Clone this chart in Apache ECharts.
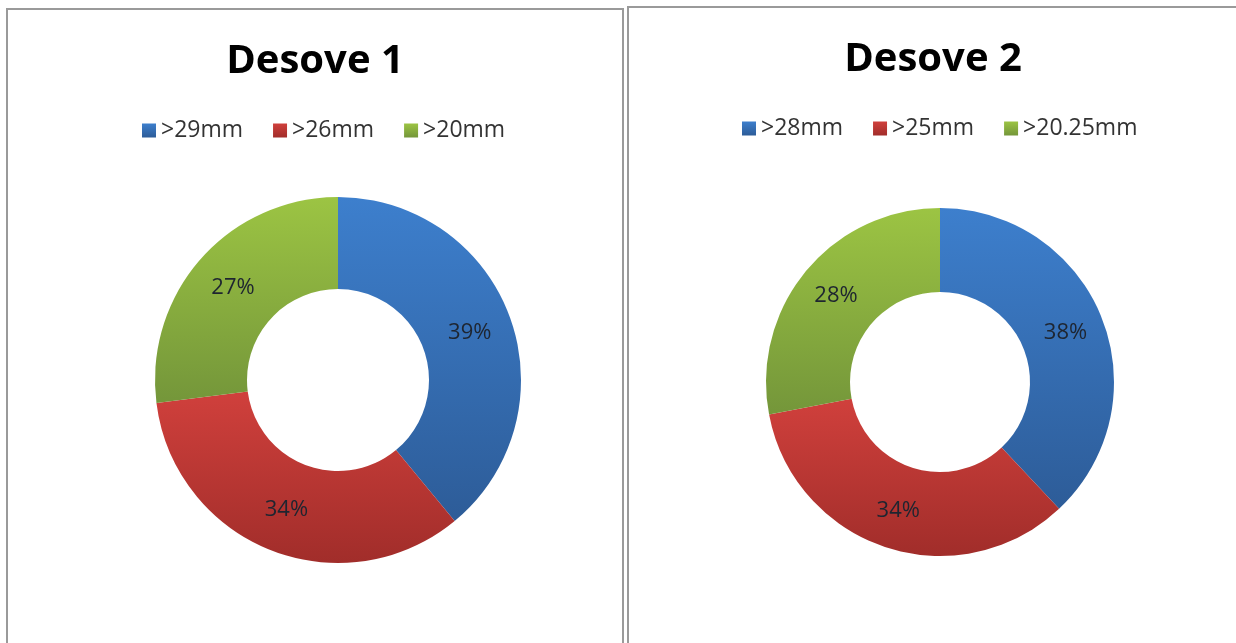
<!DOCTYPE html>
<html>
<head>
<meta charset="utf-8">
<script src="https://cdn.jsdelivr.net/npm/echarts@6/dist/echarts.min.js"></script>
<style>
  html, body { margin: 0; padding: 0; background: #fff; }
  #chart { width: 1236px; height: 643px; }
</style>
</head>
<body>
<div id="chart"></div>
<script>
// data
const names1 = ['>29mm', '>26mm', '>20mm']
const values1 = [39, 34, 27]
const names2 = ['>28mm', '>25mm', '>20.25mm']
const values2 = [38, 34, 28]

// slice colours, top -> bottom of the gradient
const shades = [
  ['#3d7fcd', '#2d5c98'],
  ['#d0403c', '#a12d2a'],
  ['#9cc443', '#74963a']
]

function grad(i) {
  return new echarts.graphic.LinearGradient(0, 0, 0, 1, [
    { offset: 0, color: shades[i][0] },
    { offset: 1, color: shades[i][1] }
  ])
}

function toData(names, values) {
  return names.map((n, i) => ({ name: n, value: values[i], itemStyle: { color: grad(i) } }))
}

const chart = echarts.init(document.getElementById('chart'))
const fontFamily = 'Open Sans, Noto Sans, sans-serif'

const legendBase = {
  itemWidth: 14, itemHeight: 14, itemGap: 30, icon: 'rect',
  textStyle: { fontFamily, fontSize: 23, color: '#333' }
}
const labelBase = { position: 'inside', formatter: '{c}%', fontFamily, fontSize: 22, color: '#1e2530' }

const option = {
  animation: false,
  color: shades.map(s => s[0]),
  graphic: [
    { type: 'rect', shape: { x: 7, y: 9, width: 616, height: 660 }, style: { fill: 'none', stroke: '#9a9a9a', lineWidth: 2 }, z: 0 },
    { type: 'rect', shape: { x: 628, y: 7, width: 620, height: 660 }, style: { fill: 'none', stroke: '#9a9a9a', lineWidth: 2 }, z: 0 }
  ],
  title: [
    { text: 'Desove 1', left: 310, top: 37, textAlign: 'center', textStyle: { fontFamily, fontSize: 40, fontWeight: 'bold', color: '#000' } },
    { text: 'Desove 2', left: 928, top: 35, textAlign: 'center', textStyle: { fontFamily, fontSize: 40, fontWeight: 'bold', color: '#000' } }
  ],
  legend: [
    Object.assign({ data: names1, left: 137, top: 114 }, legendBase),
    Object.assign({ data: names2, left: 737, top: 112 }, legendBase)
  ],
  series: [
    {
      type: 'pie',
      center: [338, 380],
      radius: [91, 183],
      startAngle: 90,
      clockwise: true,
      label: labelBase,
      labelLine: { show: false },
      itemStyle: { borderWidth: 0 },
      emphasis: { disabled: true },
      data: toData(names1, values1)
    },
    {
      type: 'pie',
      center: [940, 382],
      radius: [90, 174],
      startAngle: 90,
      clockwise: true,
      label: labelBase,
      labelLine: { show: false },
      itemStyle: { borderWidth: 0 },
      emphasis: { disabled: true },
      data: toData(names2, values2)
    }
  ]
}
chart.setOption(option)
</script>
</body>
</html>
